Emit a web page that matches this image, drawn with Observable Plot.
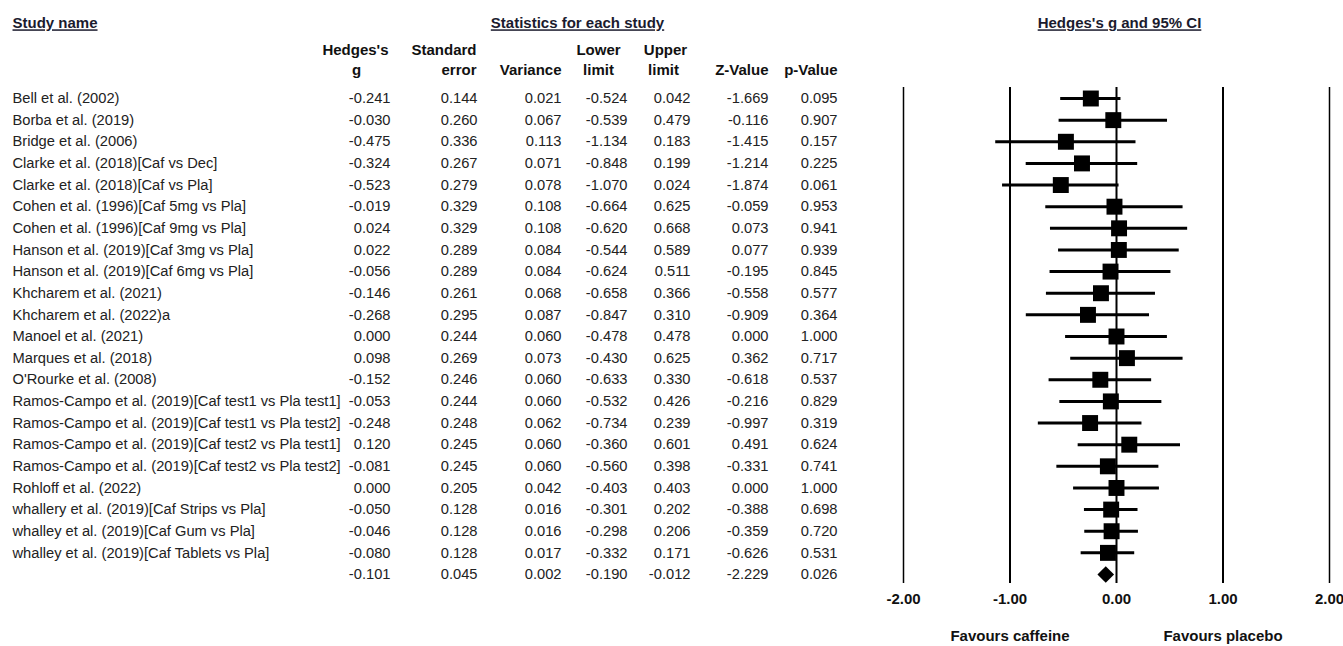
<!DOCTYPE html>
<html>
<head>
<meta charset="utf-8">
<script src="https://cdn.jsdelivr.net/npm/d3@7"></script>
<script src="https://cdn.jsdelivr.net/npm/@observablehq/plot@0.6"></script>
<style>
  html, body { margin: 0; padding: 0; background: #fff; }
  #chart svg { display: block; }
</style>
</head>
<body>
<div id="chart"></div>
<script>
// ---- Data ----
const studies = [
  "Bell et al. (2002)",
  "Borba et al. (2019)",
  "Bridge et al. (2006)",
  "Clarke et al. (2018)[Caf vs Dec]",
  "Clarke et al. (2018)[Caf vs Pla]",
  "Cohen et al. (1996)[Caf 5mg vs Pla]",
  "Cohen et al. (1996)[Caf 9mg vs Pla]",
  "Hanson et al. (2019)[Caf 3mg vs Pla]",
  "Hanson et al. (2019)[Caf 6mg vs Pla]",
  "Khcharem et al. (2021)",
  "Khcharem et al. (2022)a",
  "Manoel et al. (2021)",
  "Marques et al. (2018)",
  "O'Rourke et al. (2008)",
  "Ramos-Campo et al. (2019)[Caf test1 vs Pla test1]",
  "Ramos-Campo et al. (2019)[Caf test1 vs Pla test2]",
  "Ramos-Campo et al. (2019)[Caf test2 vs Pla test1]",
  "Ramos-Campo et al. (2019)[Caf test2 vs Pla test2]",
  "Rohloff et al. (2022)",
  "whallery et al. (2019)[Caf Strips vs Pla]",
  "whalley et al. (2019)[Caf Gum vs Pla]",
  "whalley et al. (2019)[Caf Tablets vs Pla]"
];
const hedgesG   = [-0.241,-0.030,-0.475,-0.324,-0.523,-0.019,0.024,0.022,-0.056,-0.146,-0.268,0.000,0.098,-0.152,-0.053,-0.248,0.120,-0.081,0.000,-0.050,-0.046,-0.080];
const stdError  = [0.144,0.260,0.336,0.267,0.279,0.329,0.329,0.289,0.289,0.261,0.295,0.244,0.269,0.246,0.244,0.248,0.245,0.245,0.205,0.128,0.128,0.128];
const variance  = [0.021,0.067,0.113,0.071,0.078,0.108,0.108,0.084,0.084,0.068,0.087,0.060,0.073,0.060,0.060,0.062,0.060,0.060,0.042,0.016,0.016,0.017];
const lowerLim  = [-0.524,-0.539,-1.134,-0.848,-1.070,-0.664,-0.620,-0.544,-0.624,-0.658,-0.847,-0.478,-0.430,-0.633,-0.532,-0.734,-0.360,-0.560,-0.403,-0.301,-0.298,-0.332];
const upperLim  = [0.042,0.479,0.183,0.199,0.024,0.625,0.668,0.589,0.511,0.366,0.310,0.478,0.625,0.330,0.426,0.239,0.601,0.398,0.403,0.202,0.206,0.171];
const zValue    = [-1.669,-0.116,-1.415,-1.214,-1.874,-0.059,0.073,0.077,-0.195,-0.558,-0.909,0.000,0.362,-0.618,-0.216,-0.997,0.491,-0.331,0.000,-0.388,-0.359,-0.626];
const pValue    = [0.095,0.907,0.157,0.225,0.061,0.953,0.941,0.939,0.845,0.577,0.364,1.000,0.717,0.537,0.829,0.319,0.624,0.741,1.000,0.698,0.720,0.531];

const summaryKey = "Overall";
const summaryG = -0.101, summarySE = 0.045, summaryVar = 0.002, summaryLo = -0.190, summaryHi = -0.012, summaryZ = -2.229, summaryP = 0.026;

const xTicks = [-2, -1, 0, 1, 2];
const favourLabels = ["Favours caffeine", "Favours placebo"];
const favourX = [-1, 1];

const headerLine1 = ["Hedges's", "Standard", "", "Lower", "Upper", "", ""];
const headerLine2 = ["g", "error", "Variance", "limit", "limit", "Z-Value", "p-Value"];
const sectionHeaders = ["Study name", "Statistics for each study", "Hedges's g and 95% CI"];

// ---- Build table ----
const rows = studies.map((name, i) => ({
  key: name, name,
  g: hedgesG[i], se: stdError[i], v: variance[i], lo: lowerLim[i], hi: upperLim[i], z: zValue[i], p: pValue[i]
}));
const summaryRow = {key: summaryKey, name: "", g: summaryG, se: summarySE, v: summaryVar, lo: summaryLo, hi: summaryHi, z: summaryZ, p: summaryP};
const allRows = [...rows, summaryRow];

const fields = ["g", "se", "v", "lo", "hi", "z", "p"];
const colRight = [390, 477, 561, 627, 690, 768, 837];     // right edges of value columns (px)
const header1X = [388, 476, 0, 598, 665, 0, 0];
const header1Anchor = ["end", "end", "end", "middle", "middle", "end", "end"];
const header2X = [356, 476, 561, 598, 663, 768, 837];
const header2Anchor = ["middle", "end", "end", "middle", "middle", "end", "end"];
const sectionX = [12, 577, 1119];
const sectionAnchor = ["start", "middle", "middle"];

const FONT = "'Liberation Sans', Arial, sans-serif";
const W = 1343, H = 646, TOP = 87, BOTTOM = 583;
const BODY = 14.7, BOLD = 15;

const marks = [];

// section headers
sectionHeaders.forEach((t, i) => {
  marks.push(Plot.text([t], {
    frameAnchor: "top-left", dx: sectionX[i], dy: 23 - TOP, lineAnchor: "middle",
    textAnchor: sectionAnchor[i], fontWeight: "bold", fontSize: BOLD, fill: "#1b1b2e",
    className: "sec-header"
  }));
});
// column headers (two lines)
[[headerLine1, header1X, header1Anchor, 50], [headerLine2, header2X, header2Anchor, 70]].forEach(([labels, xs, anchors, yy]) => {
  labels.forEach((t, i) => {
    if (!t) return;
    marks.push(Plot.text([t], {
      frameAnchor: "top-left", dx: xs[i], dy: yy - TOP, lineAnchor: "middle",
      textAnchor: anchors[i], fontWeight: "bold", fontSize: BOLD, fill: "#111"
    }));
  });
});
// study names
marks.push(Plot.text(allRows, {
  y: "key", text: "name", frameAnchor: "left", dx: 12, textAnchor: "start",
  fontSize: BODY, fill: "#222"
}));
// numeric columns
fields.forEach((f, i) => {
  marks.push(Plot.text(allRows, {
    y: "key", text: d => d[f].toFixed(3), frameAnchor: "left", dx: colRight[i], textAnchor: "end",
    fontSize: BODY, fill: "#222"
  }));
});

// forest plot
marks.push(Plot.ruleX(xTicks, {x: d => d, stroke: "#000", strokeWidth: d => (Math.abs(d) === 2 ? 1.5 : 2)}));
marks.push(Plot.ruleY(rows, {y: "key", x1: "lo", x2: "hi", stroke: "#000", strokeWidth: 3}));
marks.push(Plot.dot(rows, {y: "key", x: "g", symbol: "square", r: 9, fill: "#000", stroke: null}));
marks.push(Plot.dot([summaryRow], {y: "key", x: "g", symbol: "diamond2", r: 7.5, fill: "#000", stroke: null}));

marks.push(Plot.axisX(xTicks, {
  anchor: "bottom", tickSize: 0, tickPadding: 10, tickFormat: d => d.toFixed(2),
  fontSize: BOLD, fontWeight: "bold", fill: "#111"
}));
marks.push(Plot.text(favourLabels, {
  x: (d, i) => favourX[i], text: d => d, frameAnchor: "bottom", dy: 636 - BOTTOM, lineAnchor: "middle",
  fontWeight: "bold", fontSize: BOLD, fill: "#111"
}));

const chart = Plot.plot({
  width: W, height: H,
  marginLeft: 0, marginRight: 0, marginTop: TOP, marginBottom: H - BOTTOM,
  style: {fontFamily: FONT, background: "#fff"},
  x: {domain: [-2, 2], range: [903, 1329], axis: null},
  y: {type: "point", domain: allRows.map(d => d.key), range: [98, 574], padding: 0, round: false, axis: null},
  marks
});
chart.querySelectorAll("g.sec-header text").forEach(t => t.style.textDecoration = "underline");
document.getElementById("chart").appendChild(chart);
</script>
</body>
</html>
